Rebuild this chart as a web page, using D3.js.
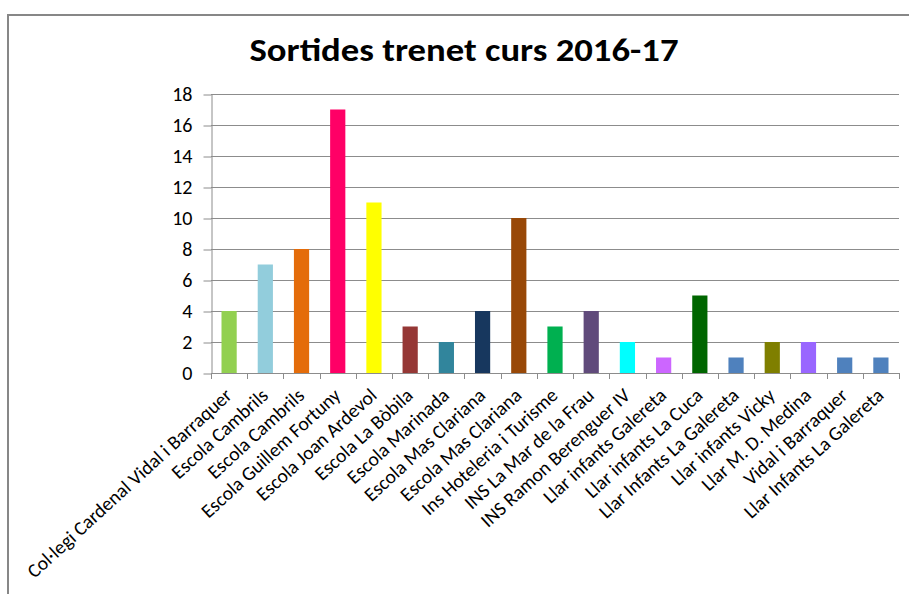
<!DOCTYPE html>
<html>
<head>
  <meta charset="utf-8">
  <title>Sortides trenet curs 2016-17</title>
  <style>
    body { margin: 0; background: #fff; }
    text { font-family: Carlito, Lato, "Open Sans", sans-serif; fill: #000; }
    .grid line { stroke: #8c8c8c; stroke-width: 1px; }
    .axis path, .axis line { stroke: #8c8c8c; }
    .yaxis text { font-size: 20px; }
  </style>
</head>
<body>
  <div id="chart"></div>
  <script src="https://d3js.org/d3.v7.min.js"></script>
  <script>
    // chart values
    var schools = [
      "Col·legi Cardenal Vidal i Barraquer", "Escola Cambrils", "Escola Cambrils",
      "Escola Guillem Fortuny", "Escola Joan Ardevol", "Escola La Bòbila",
      "Escola Marinada", "Escola Mas Clariana", "Escola Mas Clariana",
      "Ins Hoteleria i Turisme", "INS La Mar de la Frau", "INS Ramon Berenguer IV",
      "Llar infants Galereta", "Llar infants La Cuca", "Llar Infants La Galereta",
      "Llar infants Vicky", "Llar M. D. Medina", "Vidal i Barraquer",
      "Llar Infants La Galereta"
    ];
    var trips = [4, 7, 8, 17, 11, 3, 2, 4, 10, 3, 4, 2, 1, 5, 1, 2, 2, 1, 1];
    var barColors = [
      "#92D050", "#92CDDC", "#E46C0A", "#FF0066", "#FFFF00", "#953735",
      "#31859C", "#17375E", "#984807", "#00B050", "#604A7B", "#00FFFF",
      "#CC66FF", "#006600", "#4F81BD", "#7F7F00", "#9966FF", "#4F81BD",
      "#4F81BD"
    ];
    var yTicks = [0, 2, 4, 6, 8, 10, 12, 14, 16, 18];

    var width = 909,
        height = 594,
        plotLeft = 211,
        plotRight = 899,
        plotTop = 94,
        plotBottom = 373;

    var svg = d3.select("#chart").append("svg")
        .attr("width", width)
        .attr("height", height);

    // chart frame
    svg.append("path")
        .attr("d", "M8," + height + "V15H" + (width + 2))
        .attr("fill", "none")
        .attr("stroke", "#878787")
        .attr("stroke-width", 2);

    svg.append("text")
        .attr("x", 464)
        .attr("y", 61)
        .attr("text-anchor", "middle")
        .attr("font-size", 33)
        .attr("font-weight", "bold")
        .attr("textLength", 429)
        .attr("lengthAdjust", "spacingAndGlyphs")
        .text("Sortides trenet curs 2016-17");

    var x = d3.scaleBand()
        .domain(d3.range(schools.length))
        .range([plotLeft, plotRight])
        .paddingInner(0.58)
        .paddingOuter(0.29);

    var y = d3.scaleLinear()
        .domain([0, 18])
        .range([plotBottom, plotTop]);

    // horizontal gridlines
    svg.append("g").attr("class", "grid")
      .selectAll("line")
      .data(yTicks.slice(1))
      .enter().append("line")
        .attr("x1", plotLeft).attr("x2", plotRight)
        .attr("y1", function (d) { return Math.round(y(d)) + 0.5; })
        .attr("y2", function (d) { return Math.round(y(d)) + 0.5; });

    // y axis
    var yAxis = svg.append("g").attr("class", "axis yaxis")
        .attr("transform", "translate(" + (plotLeft + 0.5) + ",0.5)")
        .call(d3.axisLeft(y).tickValues(yTicks).tickSize(8).tickSizeOuter(0));
    yAxis.attr("font-size", null).attr("font-family", null);
    yAxis.selectAll("text").attr("x", -19);

    // bars
    svg.append("g")
      .selectAll("rect")
      .data(trips)
      .enter().append("rect")
        .attr("x", function (d, i) { return x(i); })
        .attr("y", function (d) { return y(d); })
        .attr("width", x.bandwidth())
        .attr("height", function (d) { return y(0) - y(d); })
        .attr("fill", function (d, i) { return barColors[i]; });

    // x axis: ticks at band boundaries
    var boundaries = d3.range(schools.length + 1).map(function (i) {
      return plotLeft + i * (plotRight - plotLeft) / schools.length;
    });
    var xg = svg.append("g").attr("class", "axis");
    xg.append("line")
        .attr("x1", plotLeft).attr("x2", plotRight)
        .attr("y1", plotBottom + 0.5).attr("y2", plotBottom + 0.5);
    xg.selectAll("line.tick")
      .data(boundaries)
      .enter().append("line")
        .attr("class", "tick")
        .attr("x1", function (d) { return Math.round(d) + 0.5; })
        .attr("x2", function (d) { return Math.round(d) + 0.5; })
        .attr("y1", plotBottom)
        .attr("y2", plotBottom + 6);

    // rotated category labels
    svg.append("g")
      .selectAll("text")
      .data(schools)
      .enter().append("text")
        .attr("font-size", 19.5)
        .attr("text-anchor", "end")
        .attr("transform", function (d, i) {
          var cx = x(i) + x.bandwidth() / 2 + 4;
          return "translate(" + cx + "," + (plotBottom + 24) + ") rotate(-42.5)";
        })
        .text(function (d) { return d; });
  </script>
</body>
</html>
